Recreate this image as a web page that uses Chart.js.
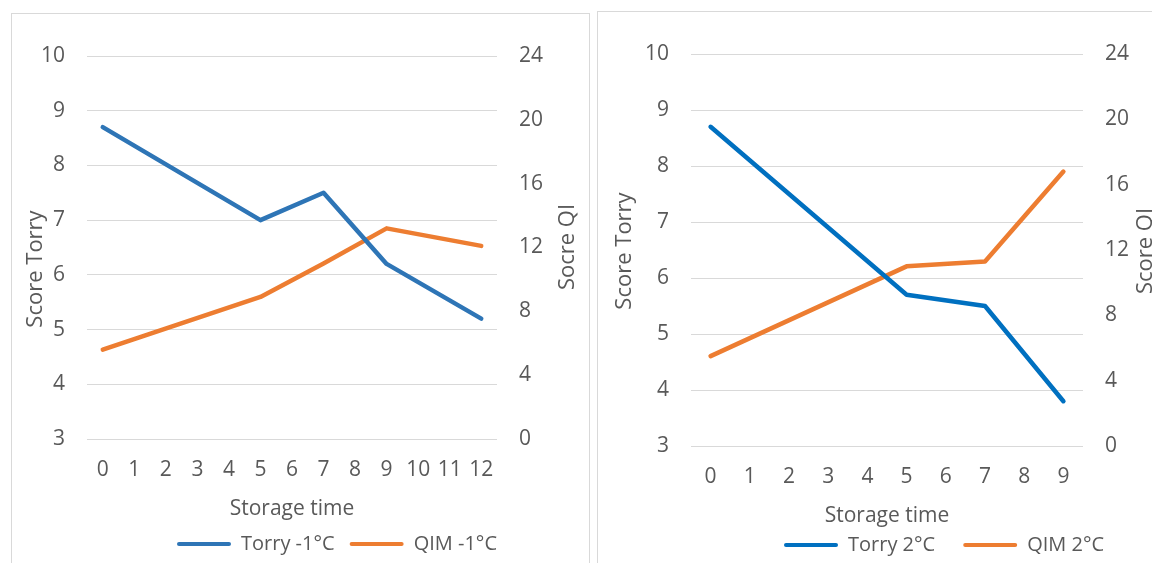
<!DOCTYPE html>
<html>
<head>
<meta charset="utf-8">
<script src="https://cdn.jsdelivr.net/npm/chart.js@4.4.1/dist/chart.umd.min.js"></script>
<style>
  html, body { margin: 0; padding: 0; background: #fff; }
  body { width: 1152px; height: 563px; overflow: hidden; position: relative; }
  .box { position: absolute; border: 1px solid #d9d9d9; background: #fff; }
  #boxL { left: 11px; top: 13px; width: 577px; height: 560px; }
  #boxR { left: 597px; top: 11px; width: 576px; height: 560px; }
  canvas { display: block; }
</style>
</head>
<body>
<div class="box" id="boxL"><canvas id="chartL" width="577" height="550"></canvas></div>
<div class="box" id="boxR"><canvas id="chartR" width="576" height="553"></canvas></div>
<script>
// storage days
const daysM1 = ['0', '1', '2', '3', '4', '5', '6', '7', '8', '9', '10', '11', '12'];
const days2 = ['0', '1', '2', '3', '4', '5', '6', '7', '8', '9'];

// -1°C series (gaps where nothing was measured)
const torryM1 = [8.7, null, null, null, null, 7.0, null, 7.5, null, 6.2, null, null, 5.2];
const qimM1 = [5.6, null, null, null, null, 8.9, null, 11.0, null, 13.2, null, null, 12.1];

// 2°C series
const torry2 = [8.7, null, null, null, null, 5.7, null, 5.5, null, 3.8];
const qim2 = [5.5, null, null, null, null, 11.0, null, 11.3, null, 16.8];

// axis ranges
const torryRange = [3, 10, 1];
const qiRange = [0, 24, 4];

const FONT = "'Open Sans', sans-serif";
const GREY = '#595959';

// draws the axis titles (Excel style, both rotated upwards) and moves the legend
const layoutFix = {
  id: 'layoutFix',
  afterLayout(chart, args, opts) {
    const lg = chart.legend;
    if (lg && opts.legendX != null) {
      const d = opts.legendX - (lg.left + lg.options.labels.padding);
      lg.left += d;
      lg.right += d;
    }
  },
  afterDraw(chart, args, opts) {
    const ctx = chart.ctx;
    (opts.titles || []).forEach(t => {
      ctx.save();
      ctx.translate(t.x, t.y);
      ctx.rotate(t.rot || 0);
      ctx.font = t.size + 'px ' + FONT;
      ctx.fillStyle = GREY;
      ctx.textAlign = 'center';
      ctx.textBaseline = 'middle';
      ctx.fillText(t.text, 0, 0);
      ctx.restore();
    });
  }
};

function makeChart(id, c) {
  const ctx = document.getElementById(id).getContext('2d');
  return new Chart(ctx, {
    type: 'line',
    data: {
      labels: c.labels,
      datasets: [{
        label: c.names[0],
        data: c.torry,
        yAxisID: 'y',
        borderColor: c.blue,
        backgroundColor: c.blue,
        borderWidth: 4.5,
        pointRadius: 0,
        spanGaps: true,
        borderCapStyle: 'round',
        borderJoinStyle: 'round'
      }, {
        label: c.names[1],
        data: c.qim,
        yAxisID: 'y2',
        borderColor: '#ED7D31',
        backgroundColor: '#ED7D31',
        borderWidth: 4.5,
        pointRadius: 0,
        spanGaps: true,
        borderCapStyle: 'round',
        borderJoinStyle: 'round'
      }]
    },
    options: {
      responsive: false,
      animation: false,
      layout: { padding: { top: c.top, left: 0, right: 0, bottom: 0 } },
      scales: {
        x: {
          offset: true,
          grid: { display: false, drawTicks: false },
          border: { display: false },
          ticks: { color: GREY, font: { family: FONT, size: 21 }, padding: 18, maxRotation: 0, autoSkip: false },
          afterFit: s => { s.height = c.xHeight; }
        },
        y: {
          position: 'left',
          min: torryRange[0], max: torryRange[1],
          grid: { color: '#d9d9d9', lineWidth: 1, drawTicks: false },
          border: { display: false },
          ticks: { stepSize: torryRange[2], color: GREY, font: { family: FONT, size: 21 }, padding: 22 },
          afterFit: s => { s.width = c.yWidth; }
        },
        y2: {
          position: 'right',
          min: qiRange[0], max: qiRange[1],
          grid: { display: false, drawTicks: false },
          border: { display: false },
          ticks: { stepSize: qiRange[2], color: GREY, font: { family: FONT, size: 21 }, padding: 22 },
          afterFit: s => { s.width = c.y2Width; }
        }
      },
      plugins: {
        tooltip: { enabled: false },
        legend: {
          position: 'bottom',
          align: 'start',
          labels: {
            color: GREY,
            font: { family: FONT, size: 20 },
            boxWidth: 54,
            boxHeight: 4,
            padding: c.legendPad,
            generateLabels: chart => Chart.defaults.plugins.legend.labels.generateLabels(chart)
              .map(l => Object.assign(l, { lineWidth: 0, borderRadius: 2 }))
          }
        },
        layoutFix: { legendX: c.legendX, titles: c.titles }
      }
    },
    plugins: [layoutFix]
  });
}

makeChart('chartL', {
  labels: daysM1, torry: torryM1, qim: qimM1,
  names: ['Torry -1°C', 'QIM -1°C'],
  blue: '#2E75B6',
  top: 42, xHeight: 80, yWidth: 75, y2Width: 92,
  legendPad: 15, legendX: 165,
  titles: [
    { text: 'Score Torry', x: 24, y: 255, rot: -Math.PI / 2, size: 22 },
    { text: 'Socre QI', x: 556, y: 233, rot: -Math.PI / 2, size: 22 },
    { text: 'Storage time', x: 280, y: 495, size: 21 }
  ]
});

makeChart('chartR', {
  labels: days2, torry: torry2, qim: qim2,
  names: ['Torry 2°C', 'QIM 2°C'],
  blue: '#0070C0',
  top: 42, xHeight: 61, yWidth: 93, y2Width: 91,
  legendPad: 28, legendX: 186,
  titles: [
    { text: 'Score Torry', x: 27, y: 239, rot: -Math.PI / 2, size: 22 },
    { text: 'Score QI', x: 548, y: 239, rot: -Math.PI / 2, size: 22 },
    { text: 'Storage time', x: 289, y: 504, size: 21 }
  ]
});
</script>
</body>
</html>
